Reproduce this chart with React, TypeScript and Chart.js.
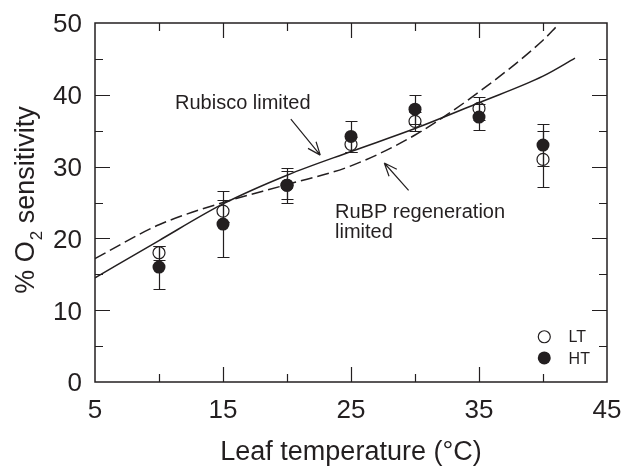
import React, { useEffect, useRef } from "react";
import { Chart, registerables } from "chart.js";

Chart.register(...registerables);

// ---- data ----
const temps = [10, 15, 20, 25, 30, 35, 40];
const ltValues = [18.0, 23.8, 27.4, 33.1, 36.3, 38.1, 31.0];
const ltErrors = [1.0, 1.5, 1.95, 1.0, 1.35, 1.55, 3.9];
const htValues = [16.0, 22.0, 27.4, 34.2, 38.0, 36.9, 33.0];
const htErrors = [3.0, 4.6, 2.4, 2.2, 2.0, 1.75, 2.9];

const rubiscoX = [5, 10, 15, 20, 25, 30, 35, 40, 42.5];
const rubiscoY = [14.5, 19.7, 24.8, 28.8, 32.1, 35.3, 38.9, 42.6, 45.1];
const rubpX = [5, 10, 15, 20, 25, 30, 35, 40, 41.1];
const rubpY = [17.2, 21.9, 25.0, 27.5, 30.1, 34.4, 40.4, 47.6, 49.6];

const xMajorTicks = [5, 15, 25, 35, 45];
const xMinorTicks = [10, 20, 30, 40];
const yMajorTicks = [0, 10, 20, 30, 40, 50];
const yMinorTicks = [5, 15, 25, 35, 45];

const seriesLabels = ["LT", "HT"];
const xTitle = "Leaf temperature (°C)";
const yTitleParts = ["% O", "2", " sensitivity"];
const rubiscoNote = ["Rubisco limited"];
const rubpNote = ["RuBP regeneration", "limited"];

// ---- annotation placement (data units) ----
const rubiscoNotePos = { x: 11.25, y: 38.0 };
const rubiscoArrow = { fromX: 20.3, fromY: 36.6, toX: 22.6, toY: 31.6 };
const rubpNotePos = { x: 23.75, y: 22.85 };
const rubpArrow = { fromX: 29.5, fromY: 26.7, toX: 27.6, toY: 30.5 };
const legendPos = { x: 40.1, y1: 6.3, y2: 3.35, textX: 42.0 };

const INK = "#231f20";
const FONT = "'Liberation Sans', Arial, Helvetica, sans-serif";

function drawArrow(ctx: CanvasRenderingContext2D, x1: number, y1: number, x2: number, y2: number) {
  const ang = Math.atan2(y2 - y1, x2 - x1);
  const head = 14;
  const spread = 0.38;
  ctx.beginPath();
  ctx.moveTo(x1, y1);
  ctx.lineTo(x2, y2);
  ctx.moveTo(x2, y2);
  ctx.lineTo(x2 - head * Math.cos(ang - spread), y2 - head * Math.sin(ang - spread));
  ctx.moveTo(x2, y2);
  ctx.lineTo(x2 - head * Math.cos(ang + spread), y2 - head * Math.sin(ang + spread));
  ctx.stroke();
}

const figurePlugin = {
  id: "figurePlugin",
  beforeDatasetsDraw(chart: any) {
    const { ctx, scales } = chart;
    const x = scales.x;
    const y = scales.y;
    ctx.save();
    ctx.strokeStyle = INK;
    ctx.lineWidth = 1.2;
    const series: [number[], number[]][] = [
      [ltValues, ltErrors],
      [htValues, htErrors],
    ];
    series.forEach(([vals, errs]) => {
      temps.forEach((t, i) => {
        const px = Math.round(x.getPixelForValue(t)) + 0.5;
        const top = Math.round(y.getPixelForValue(vals[i] + errs[i])) + 0.5;
        const bot = Math.round(y.getPixelForValue(vals[i] - errs[i])) + 0.5;
        ctx.beginPath();
        ctx.moveTo(px, top);
        ctx.lineTo(px, bot);
        ctx.moveTo(px - 6, top);
        ctx.lineTo(px + 6, top);
        ctx.moveTo(px - 6, bot);
        ctx.lineTo(px + 6, bot);
        ctx.stroke();
      });
    });
    ctx.restore();
  },
  afterDraw(chart: any) {
    const { ctx, chartArea: a, scales } = chart;
    const x = scales.x;
    const y = scales.y;
    ctx.save();

    // frame
    ctx.strokeStyle = INK;
    ctx.lineWidth = 1.5;
    ctx.strokeRect(a.left, a.top, a.right - a.left, a.bottom - a.top);

    // ticks (inward, all four sides)
    ctx.lineWidth = 1.2;
    const xt = [
      ...xMajorTicks.map((v) => [v, 15]),
      ...xMinorTicks.map((v) => [v, 8]),
    ];
    xt.forEach(([v, len]) => {
      const px = Math.round(x.getPixelForValue(v)) + 0.5;
      if (px <= a.left + 1 || px >= a.right - 1) return;
      ctx.beginPath();
      ctx.moveTo(px, a.bottom);
      ctx.lineTo(px, a.bottom - len);
      ctx.moveTo(px, a.top);
      ctx.lineTo(px, a.top + len);
      ctx.stroke();
    });
    const yt = [
      ...yMajorTicks.map((v) => [v, 15]),
      ...yMinorTicks.map((v) => [v, 8]),
    ];
    yt.forEach(([v, len]) => {
      const py = Math.round(y.getPixelForValue(v)) + 0.5;
      if (py <= a.top + 1 || py >= a.bottom - 1) return;
      ctx.beginPath();
      ctx.moveTo(a.left, py);
      ctx.lineTo(a.left + len, py);
      ctx.moveTo(a.right, py);
      ctx.lineTo(a.right - len, py);
      ctx.stroke();
    });

    // tick labels
    ctx.fillStyle = INK;
    ctx.font = `26px ${FONT}`;
    ctx.textBaseline = "alphabetic";
    ctx.textAlign = "center";
    xMajorTicks.forEach((v) => {
      ctx.fillText(String(v), x.getPixelForValue(v), a.bottom + 36);
    });
    ctx.textAlign = "right";
    yMajorTicks.forEach((v) => {
      ctx.fillText(String(v), a.left - 13, y.getPixelForValue(v) + 9.3);
    });

    // axis titles
    ctx.font = `27px ${FONT}`;
    ctx.textAlign = "center";
    ctx.fillText(xTitle, (a.left + a.right) / 2, a.bottom + 78);

    ctx.save();
    ctx.translate(33.5, (a.top + a.bottom) / 2 - 2);
    ctx.rotate(-Math.PI / 2);
    ctx.textAlign = "left";
    ctx.font = `27px ${FONT}`;
    const w1 = ctx.measureText(yTitleParts[0]).width;
    const w3 = ctx.measureText(yTitleParts[2]).width;
    ctx.font = `17px ${FONT}`;
    const w2 = ctx.measureText(yTitleParts[1]).width;
    let sx = -(w1 + w2 + w3) / 2;
    ctx.font = `27px ${FONT}`;
    ctx.fillText(yTitleParts[0], sx, 0);
    sx += w1;
    ctx.font = `17px ${FONT}`;
    ctx.fillText(yTitleParts[1], sx + 1, 8);
    sx += w2 + 1;
    ctx.font = `27px ${FONT}`;
    ctx.fillText(yTitleParts[2], sx, 0);
    ctx.restore();

    // annotations
    ctx.font = `20px ${FONT}`;
    ctx.textAlign = "left";
    ctx.fillText(rubiscoNote[0], x.getPixelForValue(rubiscoNotePos.x), y.getPixelForValue(rubiscoNotePos.y));
    rubpNote.forEach((line, i) => {
      ctx.fillText(line, x.getPixelForValue(rubpNotePos.x), y.getPixelForValue(rubpNotePos.y) + i * 20);
    });
    ctx.lineWidth = 1.2;
    ctx.strokeStyle = INK;
    drawArrow(
      ctx,
      x.getPixelForValue(rubiscoArrow.fromX),
      y.getPixelForValue(rubiscoArrow.fromY),
      x.getPixelForValue(rubiscoArrow.toX),
      y.getPixelForValue(rubiscoArrow.toY)
    );
    drawArrow(
      ctx,
      x.getPixelForValue(rubpArrow.fromX),
      y.getPixelForValue(rubpArrow.fromY),
      x.getPixelForValue(rubpArrow.toX),
      y.getPixelForValue(rubpArrow.toY)
    );

    // legend
    const lx = x.getPixelForValue(legendPos.x);
    const ly1 = y.getPixelForValue(legendPos.y1);
    const ly2 = y.getPixelForValue(legendPos.y2);
    ctx.lineWidth = 1.2;
    ctx.beginPath();
    ctx.arc(lx, ly1, 6, 0, Math.PI * 2);
    ctx.fillStyle = "#ffffff";
    ctx.fill();
    ctx.stroke();
    ctx.beginPath();
    ctx.arc(lx, ly2, 6.5, 0, Math.PI * 2);
    ctx.fillStyle = INK;
    ctx.fill();
    ctx.font = `16px ${FONT}`;
    ctx.fillStyle = INK;
    ctx.fillText(seriesLabels[0], x.getPixelForValue(legendPos.textX), ly1 + 5.7);
    ctx.fillText(seriesLabels[1], x.getPixelForValue(legendPos.textX), ly2 + 5.7);

    ctx.restore();
  },
};

export default function App() {
  const canvasRef = useRef<HTMLCanvasElement | null>(null);

  useEffect(() => {
    document.body.style.margin = "0";
    const canvas = canvasRef.current;
    if (!canvas) return;
    const chart = new Chart(canvas, {
      type: "scatter",
      data: {
        datasets: [
          {
            label: "Rubisco limited",
            data: rubiscoX.map((v, i) => ({ x: v, y: rubiscoY[i] })),
            showLine: true,
            borderColor: INK,
            borderWidth: 1.5,
            pointRadius: 0,
            cubicInterpolationMode: "monotone",
            fill: false,
          },
          {
            label: "RuBP regeneration limited",
            data: rubpX.map((v, i) => ({ x: v, y: rubpY[i] })),
            showLine: true,
            borderColor: INK,
            borderWidth: 1.5,
            borderDash: [12, 5],
            pointRadius: 0,
            cubicInterpolationMode: "monotone",
            fill: false,
          },
          {
            label: seriesLabels[0],
            data: temps.map((t, i) => ({ x: t, y: ltValues[i] })),
            showLine: false,
            pointRadius: 6,
            pointBorderWidth: 1.2,
            pointBorderColor: INK,
            pointBackgroundColor: "rgba(255,255,255,0)",
          },
          {
            label: seriesLabels[1],
            data: temps.map((t, i) => ({ x: t, y: htValues[i] })),
            showLine: false,
            pointRadius: 6.5,
            pointBorderWidth: 0,
            pointBorderColor: INK,
            pointBackgroundColor: INK,
          },
        ],
      },
      options: {
        animation: false,
        responsive: false,
        devicePixelRatio: 1,
        layout: { padding: { left: 95, right: 17, top: 23, bottom: 84 } },
        plugins: {
          legend: { display: false },
          tooltip: { enabled: false },
          title: { display: false },
        },
        scales: {
          x: { type: "linear", min: 5, max: 45, display: false },
          y: { type: "linear", min: 0, max: 50, display: false },
        },
      } as any,
      plugins: [figurePlugin],
    });
    return () => chart.destroy();
  }, []);

  return (
    <div style={{ width: 624, height: 466, background: "#ffffff" }}>
      <canvas ref={canvasRef} width={624} height={466} style={{ display: "block" }} />
    </div>
  );
}
